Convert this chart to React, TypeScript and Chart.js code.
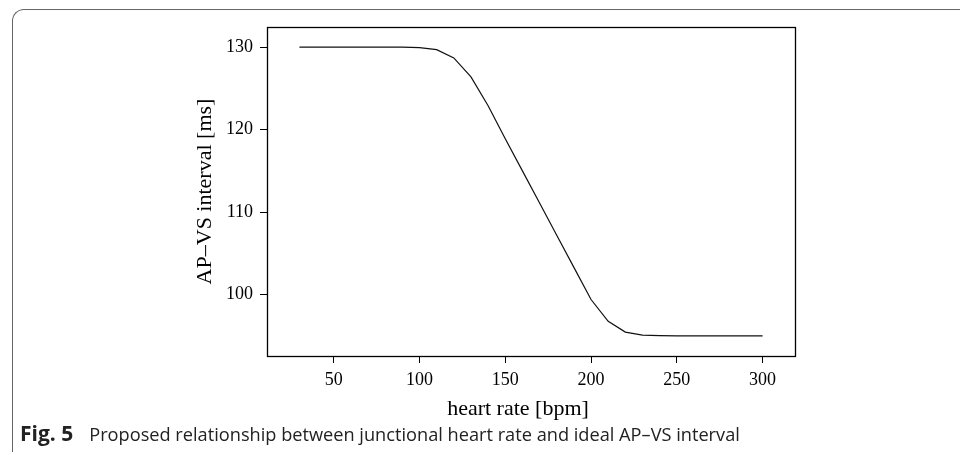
import React, { useEffect, useRef } from "react";
import { Chart, registerables } from "chart.js";

Chart.register(...registerables);

// ---- data ----
const heartRate = [30, 40, 50, 60, 70, 80, 90, 100, 110, 120, 130, 140, 150, 160, 170, 180, 190, 200, 210, 220, 230, 240, 250, 260, 270, 280, 290, 300];
const apvsInterval = [130, 130, 130, 130, 130, 130, 130, 129.95, 129.7, 128.7, 126.4, 122.9, 118.9, 115.0, 111.1, 107.2, 103.3, 99.4, 96.75, 95.45, 95.08, 95.02, 95, 95, 95, 95, 95, 95];
const xTickValues = [50, 100, 150, 200, 250, 300];
const yTickValues = [100, 110, 120, 130];
const xAxisTitle = "heart rate [bpm]";
const yAxisTitle = "AP\u2013VS interval [ms]";
const figLabel = "Fig. 5";
const captionText = "Proposed relationship between junctional heart rate and ideal AP\u2013VS interval";

const SERIF = "'Liberation Serif', 'DejaVu Serif', serif";

const boxPlugin = {
  id: "plotBox",
  afterDraw(chart: any) {
    const { ctx, chartArea: a } = chart;
    ctx.save();
    ctx.strokeStyle = "#000";
    ctx.lineWidth = 1.3;
    const l = Math.round(a.left) + 0.5;
    const t = Math.round(a.top) + 0.5;
    const r = Math.round(a.right) + 0.5;
    const b = Math.round(a.bottom) + 0.5;
    ctx.strokeRect(l, t, r - l, b - t);
    // x axis title (slightly left of the plot centre, as in the reference)
    ctx.fillStyle = "#000";
    ctx.font = `22px ${SERIF}`;
    ctx.textAlign = "center";
    ctx.textBaseline = "alphabetic";
    ctx.fillText(xAxisTitle, (a.left + a.right) / 2 - 13, a.bottom + 59);
    ctx.restore();
  },
};

export default function App() {
  const canvasRef = useRef<HTMLCanvasElement | null>(null);

  useEffect(() => {
    if (!canvasRef.current) return;
    const chart = new Chart(canvasRef.current, {
      type: "line",
      data: {
        datasets: [
          {
            data: heartRate.map((x, i) => ({ x, y: apvsInterval[i] })),
            borderColor: "#111",
            borderWidth: 1.2,
            pointRadius: 0,
            tension: 0,
            fill: false,
          },
        ],
      },
      options: {
        animation: false,
        responsive: false,
        events: [],
        layout: { padding: { top: 27, right: 165, left: 0, bottom: 0 } },
        plugins: { legend: { display: false }, tooltip: { enabled: false } },
        scales: {
          x: {
            type: "linear",
            min: 11.1,
            max: 318.9,
            afterFit: (s: any) => {
              s.height = 69;
            },
            afterBuildTicks: (axis: any) => {
              axis.ticks = xTickValues.map((value) => ({ value }));
            },
            grid: { drawOnChartArea: false, drawTicks: true, tickLength: 7, color: "#000", lineWidth: 1 },
            border: { display: false },
            ticks: { color: "#000", font: { family: SERIF, size: 18 }, padding: 6, maxRotation: 0 },
            title: { display: false, text: xAxisTitle },
          },
          y: {
            type: "linear",
            min: 92.55,
            max: 132.45,
            afterFit: (s: any) => {
              s.width = 267;
            },
            afterBuildTicks: (axis: any) => {
              axis.ticks = yTickValues.map((value) => ({ value }));
            },
            grid: { drawOnChartArea: false, drawTicks: true, tickLength: 7, color: "#000", lineWidth: 1 },
            border: { display: false },
            ticks: { color: "#000", font: { family: SERIF, size: 18 }, padding: 7 },
            title: { display: true, text: yAxisTitle, color: "#000", font: { family: SERIF, size: 22 }, padding: { top: 192, bottom: 0 } },
          },
        },
      },
      plugins: [boxPlugin],
    });
    return () => chart.destroy();
  }, []);

  return (
    <div style={{ position: "absolute", left: 0, top: 0, width: 960, height: 455, overflow: "hidden", background: "#fff" }}>
      <div
        style={{
          position: "absolute",
          left: 12,
          top: 9,
          width: 1000,
          height: 443,
          borderLeft: "1px solid #666",
          borderTop: "1px solid #666",
          borderTopLeftRadius: 12,
          boxSizing: "border-box",
        }}
      />
      <canvas ref={canvasRef} width={960} height={425} style={{ position: "absolute", left: 0, top: 0, width: 960, height: 425 }} />
      <div
        style={{
          position: "absolute",
          left: 20,
          top: 423,
          fontFamily: "'Open Sans', 'Noto Sans', sans-serif",
          fontSize: 18.2,
          lineHeight: "20px",
          color: "#222",
          whiteSpace: "nowrap",
        }}
      >
        <span style={{ fontWeight: 700, fontSize: 21 }}>{figLabel}</span>
        <span style={{ marginLeft: 16 }}>{captionText}</span>
      </div>
    </div>
  );
}
